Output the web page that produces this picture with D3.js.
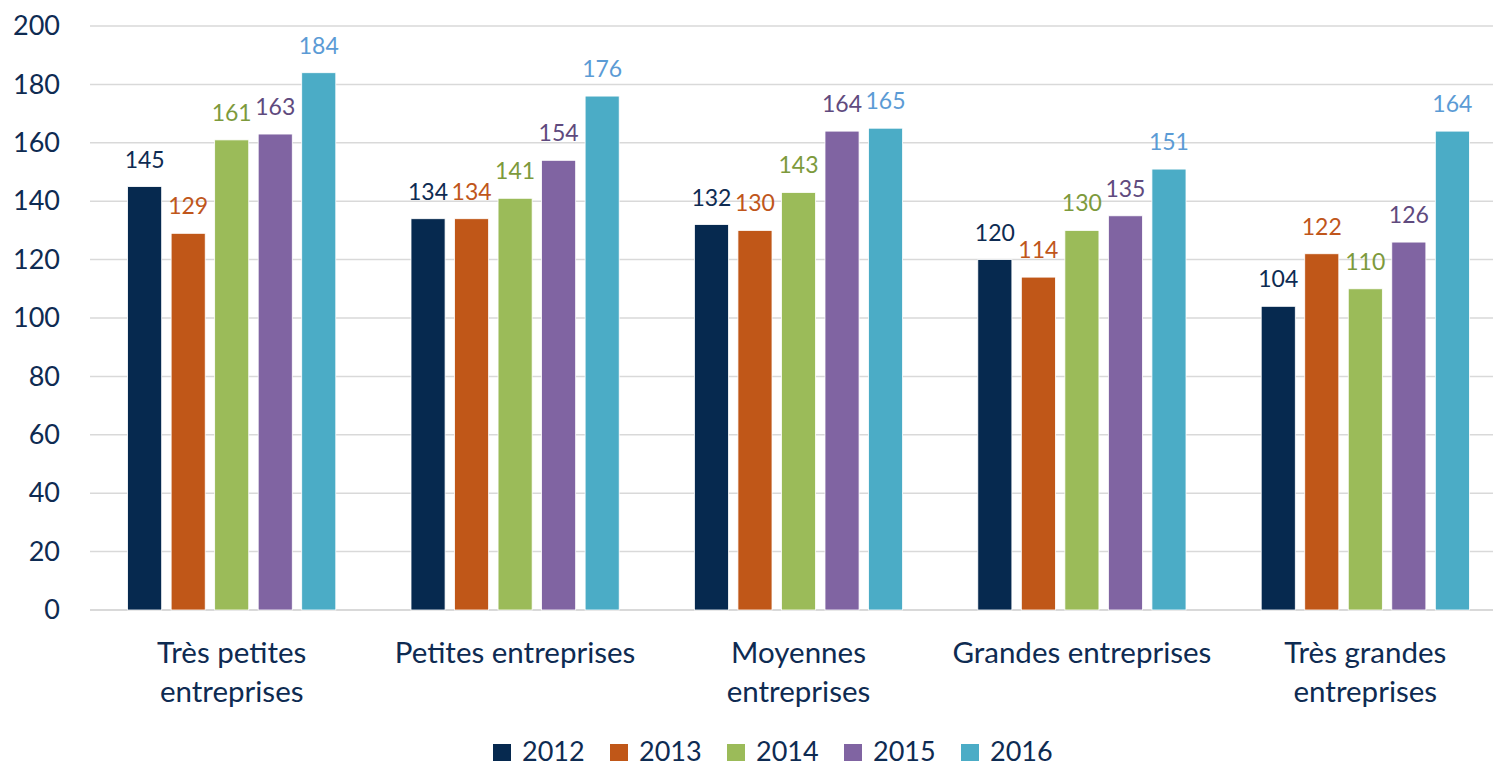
<!DOCTYPE html>
<html>
<head>
<meta charset="utf-8">
<script src="https://cdn.jsdelivr.net/npm/d3@7"></script>
<style>
  html, body { margin: 0; padding: 0; background: #fff; }
  svg { display: block; font-family: Lato, "Open Sans", sans-serif; }
</style>
</head>
<body>
<div id="chart"></div>
<script>
// catégories (libellés sur deux lignes si besoin)
const categories = [
  ["Très petites", "entreprises"],
  ["Petites entreprises"],
  ["Moyennes", "entreprises"],
  ["Grandes entreprises"],
  ["Très grandes", "entreprises"]
];
const years = ["2012", "2013", "2014", "2015", "2016"];

// valeurs par année, dans l'ordre des catégories
const v2012 = [145, 134, 132, 120, 104];
const v2013 = [129, 134, 130, 114, 122];
const v2014 = [161, 141, 143, 130, 110];
const v2015 = [163, 154, 164, 135, 126];
const v2016 = [184, 176, 165, 151, 164];

const yTicks = [0, 20, 40, 60, 80, 100, 120, 140, 160, 180, 200];

const barColors = ["#06294f", "#c05718", "#9bbb59", "#8064a2", "#4bacc6"];
const labelColors = ["#0e2b52", "#c0561b", "#7d9a3c", "#5f4a7e", "#5b9bd5"];
const textColor = "#0e2b52";

const series = [v2012, v2013, v2014, v2015, v2016];
const catKeys = categories.map(c => c.join(" "));

// dimensions
const width = 1493, height = 766;
const plotLeft = 90, plotRight = 1507, plotTop = 26, plotBottom = 610;

const svg = d3.select("#chart").append("svg")
  .attr("width", width)
  .attr("height", height);

const x0 = d3.scaleBand().domain(catKeys).range([plotLeft, plotRight]).padding(0);
const x1 = d3.scaleBand().domain(years)
  .range([37.6, x0.bandwidth() - 37.6])
  .paddingInner(0.217).paddingOuter(0);
const y = d3.scaleLinear().domain([0, 200]).range([plotBottom, plotTop]);
const color = d3.scaleOrdinal(years, barColors);
const lblColor = d3.scaleOrdinal(years, labelColors);

// grille
svg.append("g")
  .selectAll("line")
  .data(yTicks)
  .join("line")
  .attr("x1", plotLeft)
  .attr("x2", width)
  .attr("y1", d => y(d))
  .attr("y2", d => y(d))
  .attr("stroke", "#d9d9d9")
  .attr("stroke-width", d => d === 0 ? 2 : 1.5);

// axe Y
const yAxis = svg.append("g")
  .attr("transform", `translate(${plotLeft - 30},0)`)
  .call(d3.axisLeft(y).tickValues(yTicks).tickSize(0).tickPadding(0));
yAxis.select(".domain").remove();
yAxis.selectAll("text")
  .attr("fill", textColor)
  .style("font-size", "27px")
  .style("font-family", "Lato, sans-serif");

// barres
const rows = catKeys.map((k, i) => ({ key: k, vals: years.map((yr, j) => ({ year: yr, value: series[j][i] })) }));

const groups = svg.append("g")
  .selectAll("g")
  .data(rows)
  .join("g")
  .attr("transform", d => `translate(${x0(d.key)},0)`);

groups.selectAll("rect")
  .data(d => d.vals)
  .join("rect")
  .attr("x", d => x1(d.year))
  .attr("y", d => y(d.value))
  .attr("width", x1.bandwidth())
  .attr("height", d => y(0) - y(d.value))
  .attr("fill", d => color(d.year))
  .attr("stroke", "#fff")
  .attr("stroke-width", 0.8);

// étiquettes de valeurs
groups.selectAll("text")
  .data(d => d.vals)
  .join("text")
  .attr("x", d => x1(d.year) + x1.bandwidth() / 2)
  .attr("y", d => y(d.value) - 19)
  .attr("text-anchor", "middle")
  .attr("fill", d => lblColor(d.year))
  .style("font-size", "23px")
  .text(d => d.value);

// libellés de catégories
svg.append("g")
  .selectAll("text")
  .data(categories)
  .join("text")
  .attr("text-anchor", "middle")
  .attr("fill", textColor)
  .style("font-size", "29.5px")
  .each(function (lines, i) {
    const t = d3.select(this);
    const cx = x0(catKeys[i]) + x0.bandwidth() / 2;
    lines.forEach((ln, k) => {
      t.append("tspan")
        .attr("x", cx)
        .attr("y", 663 + k * 38.5)
        .text(ln);
    });
  });

// légende
const legend = svg.append("g")
  .selectAll("g")
  .data(years)
  .join("g")
  .attr("transform", (d, i) => `translate(${493 + i * 117},744)`);

legend.append("rect")
  .attr("width", 18)
  .attr("height", 17)
  .attr("fill", d => color(d));

legend.append("text")
  .attr("x", 29)
  .attr("y", 16.5)
  .attr("fill", textColor)
  .style("font-size", "27px")
  .text(d => d);
</script>
</body>
</html>
